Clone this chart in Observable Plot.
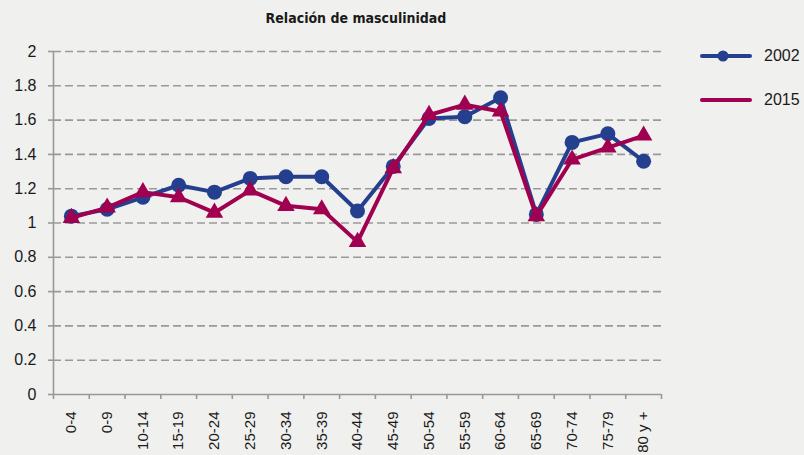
<!DOCTYPE html>
<html>
<head>
<meta charset="utf-8">
<script src="https://cdn.jsdelivr.net/npm/d3@7"></script>
<script src="https://cdn.jsdelivr.net/npm/@observablehq/plot@0.6"></script>
<style>
  html, body { margin: 0; padding: 0; background: #f0f0ee; }
  #wrap { position: relative; width: 804px; height: 455px; background: #f0f0ee; font-family: "Liberation Sans", Arial, sans-serif; }
  #title { position: absolute; top: 10px; left: 0; width: 712px; text-align: center; font-family: "DejaVu Sans Condensed", "Liberation Sans Narrow", sans-serif; font-weight: bold; font-size: 14px; color: #1a1a1a; }
  #legend { position: absolute; left: 700px; top: 44px; font-size: 16px; color: #1a1a1a; }
  .li { display: flex; align-items: center; height: 24px; margin-bottom: 20px; }
  .li span { margin-left: 12px; }
  #chart { position: absolute; left: 0; top: 0; }
</style>
</head>
<body>
<div id="wrap">
  <div id="chart"></div>
  <div id="title">Relación de masculinidad</div>
  <div id="legend"></div>
</div>
<script>
const categories = ["0-4","0-9","10-14","15-19","20-24","25-29","30-34","35-39","40-44","45-49","50-54","55-59","60-64","65-69","70-74","75-79","80 y +"];
const values2002 = [1.04,1.08,1.15,1.22,1.18,1.26,1.27,1.27,1.07,1.33,1.61,1.62,1.73,1.05,1.47,1.52,1.36];
const values2015 = [1.03,1.09,1.18,1.15,1.06,1.19,1.10,1.08,0.89,1.32,1.63,1.69,1.65,1.04,1.37,1.44,1.51];
const seriesNames = ["2002","2015"];
const seriesColors = ["#253f8f","#a0004f"];
const yTicks = [0,0.2,0.4,0.6,0.8,1,1.2,1.4,1.6,1.8,2];

const rows = [];
categories.forEach((c,i) => {
  rows.push({i: i + 0.5, cat: c, value: values2002[i], series: "2002"});
  rows.push({i: i + 0.5, cat: c, value: values2015[i], series: "2015"});
});
const r2002 = rows.filter(d => d.series === "2002");
const r2015 = rows.filter(d => d.series === "2015");

const chart = Plot.plot({
  width: 804,
  height: 455,
  marginLeft: 53,
  marginRight: 143,
  marginTop: 51,
  marginBottom: 61,
  style: {background: "transparent", fontFamily: "'Liberation Sans', Arial, sans-serif", fontSize: "14px", color: "#1a1a1a"},
  x: {type: "linear", domain: [0, categories.length], axis: null},
  y: {domain: [0, 2], axis: null},
  marks: [
    Plot.ruleY(yTicks.filter(d => d > 0), {stroke: "#999", strokeWidth: 1.6, strokeDasharray: "8,4"}),
    Plot.ruleY([0], {stroke: "#999", strokeWidth: 1.6}),
    Plot.ruleX([0], {stroke: "#999", strokeWidth: 1.6}),
    Plot.axisY({ticks: yTicks, label: null, tickSize: 5, tickPadding: 12, tickFormat: d => String(d), stroke: "#999", strokeWidth: 1.6, fill: "#1a1a1a", fontSize: 16}),
    Plot.axisX({ticks: d3.range(categories.length + 1), label: null, tickSize: 5, tickFormat: () => "", stroke: "#999", strokeWidth: 1.6}),
    Plot.axisX({ticks: categories.map((_, i) => i + 0.5), label: null, tickSize: 0, tickPadding: 17, tickRotate: -90, tickFormat: d => categories[Math.floor(d)], fill: "#1a1a1a", fontSize: 15}),
    Plot.line(r2002, {x: "i", y: "value", stroke: seriesColors[0], strokeWidth: 4}),
    Plot.dot(r2002, {x: "i", y: "value", r: 7.5, fill: seriesColors[0], symbol: "circle"}),
    Plot.line(r2015, {x: "i", y: "value", stroke: seriesColors[1], strokeWidth: 4}),
    Plot.dot(r2015, {x: "i", y: "value", r: 6.5, fill: seriesColors[1], symbol: "triangle"})
  ]
});
document.getElementById("chart").appendChild(chart);

const legend = document.getElementById("legend");
seriesNames.forEach((name, k) => {
  const div = document.createElement("div");
  div.className = "li";
  const marker = k === 0 ? `<circle cx="23" cy="12" r="5.5" fill="${seriesColors[k]}"/>` : "";
  div.innerHTML = `<svg width="52" height="24"><line x1="2" x2="50" y1="12" y2="12" stroke="${seriesColors[k]}" stroke-width="4" stroke-linecap="round"/>${marker}</svg><span>${name}</span>`;
  legend.appendChild(div);
});
</script>
</body>
</html>
